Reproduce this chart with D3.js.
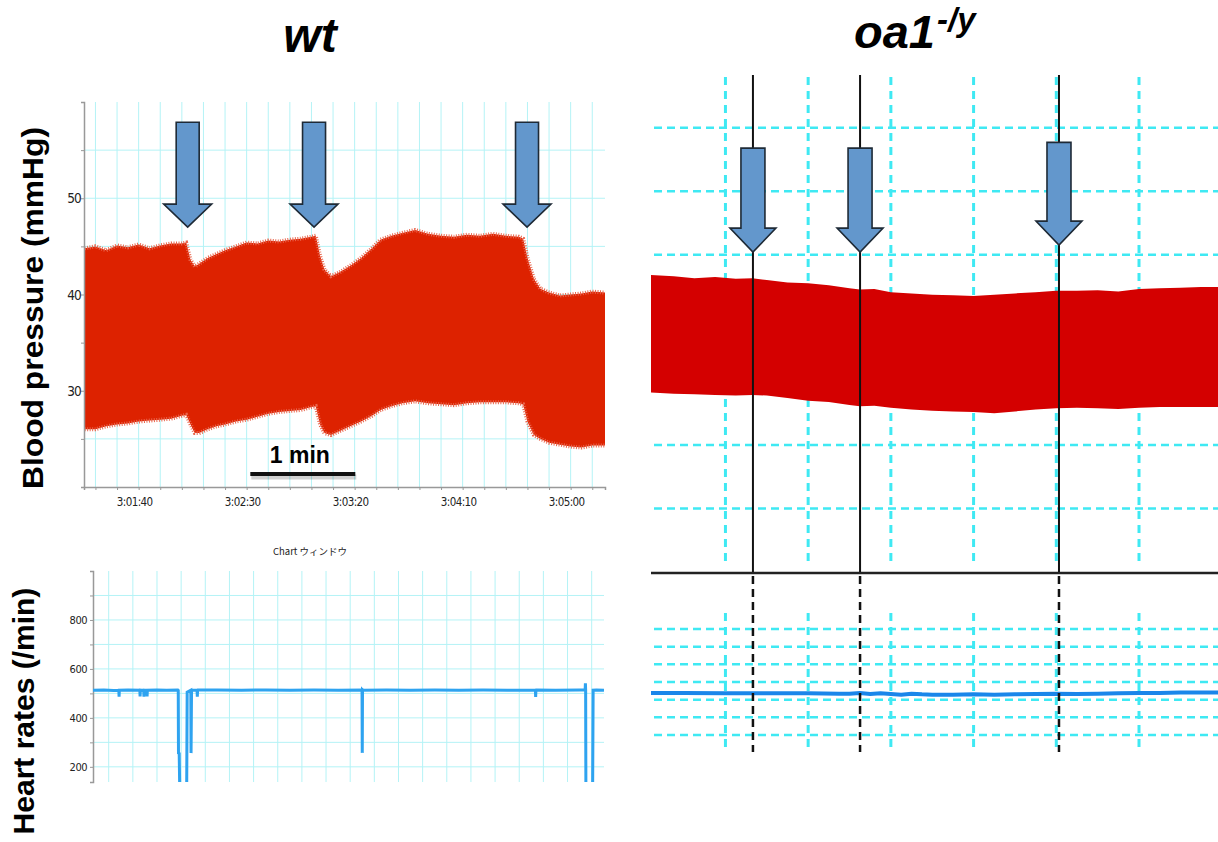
<!DOCTYPE html>
<html><head><meta charset="utf-8">
<script src="https://cdn.jsdelivr.net/npm/d3@7"></script>
<style>body{margin:0;background:#fff} svg{display:block}</style>
</head><body><svg id="c" width="1218" height="842"></svg>
<script>
// ---------- wt blood pressure (mmHg) envelope, time in s after 3:00:00 ----------
const bpTime  = [75,80,85,90,95,100,105,110,115,120,122,124,126,128,132,136,140,145,150,155,160,165,170,175,180,182,184,186,189,193,198,203,208,212,217,222,228,234,240,246,252,258,264,270,276,278,280,283,286,290,295,300,305,310,315.9];
const bpUpper = [44.8,45.0,44.6,45.1,44.9,45.2,44.8,45.1,45.3,45.3,45.4,43.6,42.9,43.2,43.8,44.2,44.6,45.0,45.4,45.3,45.6,45.5,45.7,45.8,46.0,46.1,44.0,42.6,41.9,42.3,43.0,43.8,44.8,45.7,46.1,46.4,46.7,46.3,46.1,46.0,46.2,46.1,46.3,46.1,46.0,45.8,43.8,41.6,40.6,40.2,39.9,40.0,40.1,40.3,40.2];
const bpLower = [26.0,26.0,26.3,26.5,26.6,26.8,26.9,27.0,27.1,27.4,27.5,26.5,25.6,25.6,26.0,26.3,26.5,26.8,27.0,27.3,27.6,27.8,27.9,28.0,28.3,28.4,26.5,25.6,25.4,25.8,26.3,26.8,27.4,28.0,28.4,28.7,28.9,28.7,28.6,28.5,28.7,28.8,28.8,28.8,28.7,28.6,26.8,25.4,25.0,24.6,24.4,24.2,24.1,24.3,24.3];
const bpTickTimes  = [100,150,200,250,300];
const bpTickLabels = ["3:01:40","3:02:30","3:03:20","3:04:10","3:05:00"];
const bpYTicks = [30,40,50];
const wtEvents = [122.7,181.2,279.8];          // arrow times
const scaleBarTimes = [151.7,200.3];           // "1 min" bar

// ---------- wt heart rate (/min) ----------
const hrTime = [3.5,8,12,14.2,14.3,14.4,18,22.9,23.0,23.1,24.5,24.6,24.7,25.8,25.9,26.0,30,34,38.6,38.8,38.9,39.2,39.4,39.8,40.0,42.1,42.3,42.5,44.0,44.1,44.3,44.4,46.6,46.7,46.8,46.9,55,65,75,85,95,105,114.9,115.0,115.1,115.2,125,135,145,155,165,175,186.7,186.8,186.9,187.0,195,205,207.3,207.4,207.5,207.6,208.0,208.1,210.2,210.4,210.6,212,215.1];
const hrValue = [513,514,512,513,486,513,514,513,488,513,512,487,513,513,488,513,514,513,514,512,256,254,120,120,null,120,120,505,513,256,510,513,513,487,513,514,514,513,514,513,514,513,514,257,514,513,514,513,514,513,514,513,513,485,513,514,513,514,514,541,514,120,120,null,120,120,513,514,513];
const hrYTicks = [200,400,600,800];

// ---------- oa1-/y (schematic, no axis labels) ----------
const oaTime  = [4,15,25,35,45,53,60,70,80,90,100,105,112,120,130,140,150,160,170,180,190,200,210,220,230,240,250,260,270,278.2];
const oaUpper = [46.8,46.6,46.3,46.5,46.2,46.3,46.0,45.6,45.5,45.2,44.7,44.5,44.6,44.1,43.9,43.7,43.6,43.5,43.7,43.9,44.1,44.3,44.3,44.4,44.2,44.6,44.7,44.8,44.9,44.9];
const oaLower = [28.3,28.1,28.0,27.9,27.8,27.9,27.8,27.4,27.0,26.8,26.3,26.1,26.2,25.9,25.6,25.4,25.3,25.2,25.0,25.3,25.6,25.8,25.9,25.8,25.7,25.9,26.0,26.0,26.0,26.0];
const oaEvents = [53.3,105.1,201.3];
const oaGridT  = [40,80,120,160,200,240,280];
const oaGridBP = [10,20,30,40,50,60,70];
const oaHrTime = [4,20,40,60,80,95,100,105,110,115,120,125,130,135,140,150,160,170,180,190,200,210,220,230,240,250,260,270,278.2];
const oaHrVal  = [519,519,518,518,518,517,517,519,516,518,516,514,517,515,514,514,515,514,515,516,517,516,517,518,519,519,520,520,520];
const oaGridHR = [400,450,500,550,600,650,700];

const svg = d3.select("#c");
svg.append("rect").attr("width",1218).attr("height",842).attr("fill","#fff");
const tickFont = "'DejaVu Sans Condensed','DejaVu Sans',sans-serif";
const gridCol = "#b4f3f6";

// ======================= wt BP panel =======================
const xW = d3.scaleLinear().domain([74.7,315.9]).range([84,605]);
const yW = d3.scaleLinear().domain([20,60]).range([487,102]);
const gW = svg.append("g");
gW.append("g").selectAll("line").data(d3.range(80,316,10)).join("line")
  .attr("x1",d=>xW(d)).attr("x2",d=>xW(d)).attr("y1",yW(60)).attr("y2",yW(20))
  .attr("stroke",gridCol).attr("stroke-width",1);
gW.append("g").selectAll("line").data(d3.range(25,60,5)).join("line")
  .attr("x1",xW.range()[0]).attr("x2",xW.range()[1]).attr("y1",d=>yW(d)).attr("y2",d=>yW(d))
  .attr("stroke",gridCol).attr("stroke-width",1);
const bpData = bpTime.map((t,i)=>({t,u:bpUpper[i],l:bpLower[i]}));
gW.append("path").datum(bpData)
  .attr("d",d3.area().x(d=>xW(d.t)).y0(d=>yW(d.l)).y1(d=>yW(d.u)))
  .attr("fill","#dd2200");
gW.append("path").datum(bpData).attr("d",d3.line().x(d=>xW(d.t)).y(d=>yW(d.u)))
  .attr("fill","none").attr("stroke","#e9654c").attr("stroke-width",4).attr("stroke-dasharray","1,1.5");
gW.append("path").datum(bpData).attr("d",d3.line().x(d=>xW(d.t)).y(d=>yW(d.l)))
  .attr("fill","none").attr("stroke","#e9654c").attr("stroke-width",4).attr("stroke-dasharray","1,1.5");
// axes
const axB = gW.append("g").attr("transform",`translate(0,${yW(20)})`)
  .call(d3.axisBottom(xW).tickValues(d3.range(80,316,10)).tickSize(3).tickFormat(""));
axB.select(".domain").attr("stroke","#999").attr("stroke-width",1.5);
axB.selectAll(".tick line").attr("stroke","#999");
gW.append("g").selectAll("text").data(bpTickTimes).join("text")
  .attr("x",d=>xW(d)-4).attr("y",506).attr("text-anchor","middle")
  .attr("font-family",tickFont).attr("font-size",11.5).attr("letter-spacing",-0.6).attr("fill","#222")
  .text((d,i)=>bpTickLabels[i]);
const axL = gW.append("g").attr("transform",`translate(${xW.range()[0]},0)`)
  .call(d3.axisLeft(yW).tickValues(d3.range(25,60,5)).tickSize(3).tickFormat(""));
axL.select(".domain").attr("stroke","#999").attr("stroke-width",1.5);
axL.selectAll(".tick line").attr("stroke","#999");
gW.append("g").selectAll("text").data(bpYTicks).join("text")
  .attr("x",81).attr("y",d=>yW(d)+5).attr("text-anchor","end")
  .attr("font-family",tickFont).attr("font-size",13.5).attr("letter-spacing",-0.8).attr("fill","#222")
  .text(d=>d);

function arrowPath(cx,yTop,yTip,sw,hw,hl){
  const yb = yTip-hl;
  return `M${cx-sw/2},${yTop}L${cx+sw/2},${yTop}L${cx+sw/2},${yb}L${cx+hw/2},${yb}L${cx},${yTip}L${cx-hw/2},${yb}L${cx-sw/2},${yb}Z`;
}
gW.append("g").selectAll("path").data(wtEvents).join("path")
  .attr("d",d=>arrowPath(xW(d),yW(57.9),yW(47.0),23,48,23))
  .attr("fill","#6397cc").attr("stroke","#1e2a36").attr("stroke-width",1.6).attr("stroke-linejoin","miter");

// scale bar
gW.append("line").attr("x1",xW(scaleBarTimes[0])+1).attr("x2",xW(scaleBarTimes[1])+1).attr("y1",477).attr("y2",477)
  .attr("stroke","#000").attr("stroke-opacity",0.18).attr("stroke-width",5);
gW.append("line").attr("x1",xW(scaleBarTimes[0])).attr("x2",xW(scaleBarTimes[1])).attr("y1",474).attr("y2",474)
  .attr("stroke","#111").attr("stroke-width",4);
gW.append("text").attr("x",(xW(scaleBarTimes[0])+xW(scaleBarTimes[1]))/2-3).attr("y",463)
  .attr("text-anchor","middle").attr("font-family","'Liberation Sans',Arial,sans-serif")
  .attr("font-weight","bold").attr("font-size",23).text("1 min");
svg.append("text").attr("x",310).attr("y",555).attr("text-anchor","middle")
  .attr("font-family","'Noto Sans CJK JP',sans-serif").attr("font-size",9.5).attr("fill","#222").text("Chart ウィンドウ");

// ======================= wt HR panel =======================
const xH = d3.scaleLinear().domain([3.5,215.1]).range([93,604]);
const yH = d3.scaleLinear().domain([138,1000]).range([782,571]);
const gH = svg.append("g");
gH.append("g").selectAll("line").data(d3.range(10,215,10)).join("line")
  .attr("x1",d=>xH(d)).attr("x2",d=>xH(d)).attr("y1",yH(1000)).attr("y2",yH(138))
  .attr("stroke",gridCol).attr("stroke-width",1);
gH.append("g").selectAll("line").data(d3.range(200,1000,100)).join("line")
  .attr("x1",xH.range()[0]).attr("x2",xH.range()[1]).attr("y1",d=>yH(d)).attr("y2",d=>yH(d))
  .attr("stroke",gridCol).attr("stroke-width",1);
const axH = gH.append("g").attr("transform",`translate(${xH.range()[0]},0)`)
  .call(d3.axisLeft(yH).tickValues(d3.range(200,1000,100)).tickSize(3).tickFormat(""));
axH.select(".domain").attr("stroke","#999").attr("stroke-width",1.5);
axH.selectAll(".tick line").attr("stroke","#999");
gH.append("g").selectAll("text").data(hrYTicks).join("text")
  .attr("x",87).attr("y",d=>yH(d)+4).attr("text-anchor","end")
  .attr("font-family",tickFont).attr("font-size",11).attr("letter-spacing",-0.5).attr("fill","#222")
  .text(d=>d);
svg.append("clipPath").attr("id","clipH").append("rect")
  .attr("x",xH.range()[0]).attr("y",yH(1000)).attr("width",xH.range()[1]-xH.range()[0]).attr("height",yH(138)-yH(1000));
const hrData = hrTime.map((t,i)=>({t,v:hrValue[i]}));
gH.append("path").datum(hrData).attr("clip-path","url(#clipH)")
  .attr("d",d3.line().defined(d=>d.v!==null).x(d=>xH(d.t)).y(d=>yH(d.v)))
  .attr("fill","none").attr("stroke","#2ea3f0").attr("stroke-width",3);

// axis titles
svg.append("text").attr("transform","translate(43,308) rotate(-90)").attr("text-anchor","middle")
  .attr("font-family","'Liberation Sans',Arial,sans-serif").attr("font-weight","bold").attr("font-size",30)
  .attr("textLength",362).attr("lengthAdjust","spacingAndGlyphs")
  .text("Blood pressure (mmHg)");
svg.append("text").attr("transform","translate(34,711) rotate(-90)").attr("text-anchor","middle")
  .attr("font-family","'Liberation Sans',Arial,sans-serif").attr("font-weight","bold").attr("font-size",30)
  .text("Heart rates (/min)");

// titles
svg.append("text").attr("x",310).attr("y",52).attr("text-anchor","middle")
  .attr("font-family","'Liberation Sans',Arial,sans-serif").attr("font-weight","bold").attr("font-style","italic")
  .attr("font-size",48).text("wt");
const tt = svg.append("text").attr("x",854).attr("y",48)
  .attr("font-family","'Liberation Sans',Arial,sans-serif").attr("font-weight","bold").attr("font-style","italic")
  .attr("font-size",47);
tt.append("tspan").text("oa1");
tt.append("tspan").attr("dy",-17).attr("dx",2).attr("font-size",33).text("-/y");

// ======================= oa1 panel =======================
const xR = d3.scaleLinear().domain([4,278.2]).range([651,1218]);
const yR = d3.scaleLinear().domain([0,78]).range([572,77]);
const yR2 = d3.scaleLinear().domain([400,700]).range([735,629]);
const cyan = "#3fe9f3";
const gR = svg.append("g");
gR.append("g").selectAll("line").data(oaGridT).join("line")
  .attr("x1",d=>xR(d)).attr("x2",d=>xR(d)).attr("y1",yR(78)).attr("y2",yR(1.1))
  .attr("stroke",cyan).attr("stroke-width",3).attr("stroke-dasharray","8,6");
gR.append("g").selectAll("line").data(oaGridT).join("line")
  .attr("x1",d=>xR(d)).attr("x2",d=>xR(d)).attr("y1",yR2(745)).attr("y2",yR2(366))
  .attr("stroke",cyan).attr("stroke-width",3).attr("stroke-dasharray","8,6");
gR.append("g").selectAll("line").data(oaGridBP).join("line")
  .attr("x1",654).attr("x2",1218).attr("y1",d=>yR(d)).attr("y2",d=>yR(d))
  .attr("stroke",cyan).attr("stroke-width",2.5).attr("stroke-dasharray","8,5");
gR.append("g").selectAll("line").data(oaGridHR).join("line")
  .attr("x1",654).attr("x2",1218).attr("y1",d=>yR2(d)).attr("y2",d=>yR2(d))
  .attr("stroke",cyan).attr("stroke-width",2.5).attr("stroke-dasharray","8,5");
const oaData = oaTime.map((t,i)=>({t,u:oaUpper[i],l:oaLower[i]}));
gR.append("path").datum(oaData)
  .attr("d",d3.area().x(d=>xR(d.t)).y0(d=>yR(d.l)).y1(d=>yR(d.u)))
  .attr("fill","#d40000");
const oaHr = oaHrTime.map((t,i)=>({t,v:oaHrVal[i]}));
gR.append("path").datum(oaHr).attr("d",d3.line().x(d=>xR(d.t)).y(d=>yR2(d.v)))
  .attr("fill","none").attr("stroke","#1a86ea").attr("stroke-width",4);
gR.append("line").attr("x1",xR(4)).attr("x2",1218).attr("y1",yR(0)+1).attr("y2",yR(0)+1)
  .attr("stroke","#222").attr("stroke-width",2.5);
gR.append("g").selectAll("line").data(oaEvents).join("line")
  .attr("x1",d=>xR(d)).attr("x2",d=>xR(d)).attr("y1",yR(78.3)).attr("y2",yR(0))
  .attr("stroke","#111").attr("stroke-width",2);
gR.append("g").selectAll("line").data(oaEvents).join("line")
  .attr("x1",d=>xR(d)).attr("x2",d=>xR(d)).attr("y1",yR(0)+4).attr("y2",yR2(352))
  .attr("stroke","#111").attr("stroke-width",2.5).attr("stroke-dasharray","8,5");
const oaArrowTop = [66.8,66.8,67.7], oaArrowTip = [50.4,50.4,51.5];
gR.append("g").selectAll("path").data(oaEvents).join("path")
  .attr("d",(d,i)=>arrowPath(xR(d),yR(oaArrowTop[i]),yR(oaArrowTip[i]),24,46,24))
  .attr("fill","#6397cc").attr("stroke","#1e2a36").attr("stroke-width",1.6);
</script></body></html>
